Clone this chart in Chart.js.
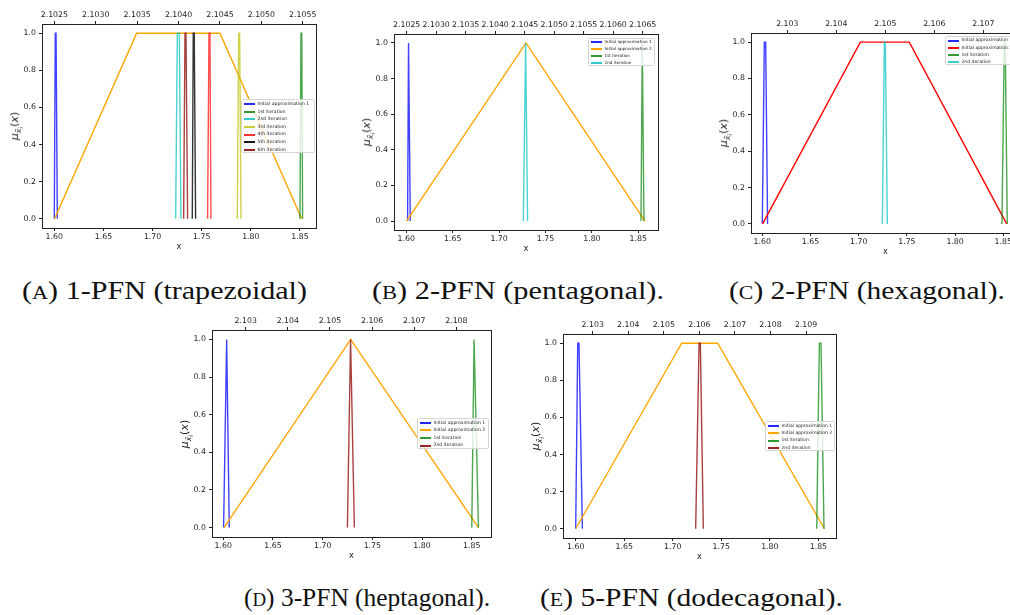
<!DOCTYPE html>
<html>
<head>
<meta charset="utf-8">
<script src="https://cdn.jsdelivr.net/npm/chart.js@4.4.1/dist/chart.umd.min.js"></script>
<style>
  html, body { margin: 0; padding: 0; background: #fff; width: 1010px; height: 615px; overflow: hidden; position: relative; }
  canvas { position: absolute; }
  .leg { position: absolute; background: rgba(255,255,255,0.8); border: 0.6px solid #d6d6d6; border-radius: 1.5px; box-sizing: border-box; font-family: "DejaVu Sans"; color: #1a1a1a; }
  .leg .txt { position: absolute; white-space: nowrap; line-height: 1; }
  .leg .sw { position: absolute; height: 2px; }
  .ylab { position: absolute; font-family: "DejaVu Sans"; font-style: italic; font-size: 11px; line-height: 12px; color: #222; white-space: nowrap; transform: translate(-50%, -50%) rotate(-90deg); }
  .ylab sub { font-size: 0.7em; vertical-align: -0.35em; line-height: 0; }
  .ylab sub sub { font-size: 0.8em; vertical-align: -0.3em; }
  .ylab .up { font-style: normal; }
  .cap { position: absolute; font-family: "Liberation Serif", serif; font-size: 25px; line-height: 26px; white-space: nowrap; transform-origin: left center; color: #111; }
  .cap .sc { font-size: 0.74em; }
</style>
</head>
<body>
<script>
// ---- DATA ----
const X_TICKS = [1.60, 1.65, 1.70, 1.75, 1.80, 1.85];
const Y_TICKS = [0.0, 0.2, 0.4, 0.6, 0.8, 1.0];
const TOP_TICKS_A = [2.1025, 2.1030, 2.1035, 2.1040, 2.1045, 2.1050, 2.1055];
const TOP_TICKS_B = [2.1025, 2.1030, 2.1035, 2.1040, 2.1045, 2.1050, 2.1055, 2.1060, 2.1065];
const TOP_TICKS_C = [2.103, 2.104, 2.105, 2.106, 2.107];
const TOP_TICKS_D = [2.103, 2.104, 2.105, 2.106, 2.107, 2.108];
const TOP_TICKS_E = [2.103, 2.104, 2.105, 2.106, 2.107, 2.108, 2.109];

// membership values of the polygon vertices
const Y_TRI  = [0, 1, 0];
const Y_TRAP = [0, 1, 1, 0];

// (A) 1-PFN trapezoidal
const A_INIT1 = [1.6000, 1.6010, 1.6018, 1.6031];
const A_INIT2 = [1.6003, 1.6838, 1.7686, 1.8517];
const A_IT1   = [1.8500, 1.8510, 1.8518, 1.8527];
const A_IT2   = [1.7235, 1.7252, 1.7272, 1.7289];
const A_IT3   = [1.7862, 1.7876, 1.7886, 1.7900];
const A_IT4   = [1.7560, 1.7574, 1.7584, 1.7594];
const A_IT5   = [1.7404, 1.7414, 1.7424, 1.7438];
const A_IT6   = [1.7316, 1.7330, 1.7340, 1.7357];
// (B) 2-PFN pentagonal
const B_INIT1 = [1.6014, 1.6024, 1.6043];
const B_INIT2 = [1.6003, 1.7290, 1.8572];
const B_IT1   = [1.8529, 1.8543, 1.8561];
const B_IT2   = [1.7261, 1.7286, 1.7307];
// (C) 2-PFN hexagonal
const C_INIT1 = [1.6000, 1.6021, 1.6035, 1.6055];
const C_INIT2 = [1.6003, 1.7017, 1.7525, 1.8535];
const C_IT1   = [1.8486, 1.8510, 1.8520, 1.8541];
const C_IT2   = [1.7245, 1.7266, 1.7276, 1.7297];
// (D) 3-PFN heptagonal
const D_INIT1 = [1.6003, 1.6034, 1.6060];
const D_INIT2 = [1.6007, 1.7282, 1.8568];
const D_IT1   = [1.8501, 1.8524, 1.8568];
const D_IT2   = [1.7249, 1.7281, 1.7319];
// (E) 5-PFN dodecagonal
const E_INIT1 = [1.6000, 1.6021, 1.6034, 1.6069];
const E_INIT2 = [1.6000, 1.7092, 1.7463, 1.8562];
const E_IT1   = [1.8483, 1.8510, 1.8527, 1.8558];
const E_IT2   = [1.7236, 1.7271, 1.7284, 1.7315];

// ---- STYLE / LAYOUT ----
const COL = {
  b: [0, 0, 255], orange: [255, 165, 0], g: [0, 128, 0], c: [0, 191, 191],
  y: [191, 191, 0], r: [255, 0, 0], k: [0, 0, 0], darkred: [139, 0, 0]
};
const AX_LEFT = 40, AX_TOP = 20, AX_BOTTOM = 28, PAD_R = 14;
const TICK_FONT = { family: 'DejaVu Sans', size: 7.8 };
const INK = '#222';

const PANELS = [
  { box: [42, 24, 316, 228], x: [1.5875, 1.8663], top: [2.102351, 2.105660], topTicks: TOP_TICKS_A, topDigits: 4,
    legend: { left: 241, top: 99, w: 74, h: 54, font: 4.6, step: 7.6 },
    series: [
      { label: 'Initial approximation 1', xs: A_INIT1, ys: Y_TRAP, c: 'b', a: 0.75 },
      { label: 'Initial approximation 2', xs: A_INIT2, ys: Y_TRAP, c: 'orange', a: 1, noLegend: true },
      { label: '1st iteration', xs: A_IT1, ys: Y_TRAP, c: 'g', a: 0.7 },
      { label: '2nd iteration', xs: A_IT2, ys: Y_TRAP, c: 'c', a: 0.7 },
      { label: '3rd iteration', xs: A_IT3, ys: Y_TRAP, c: 'y', a: 0.7 },
      { label: '4th iteration', xs: A_IT4, ys: Y_TRAP, c: 'r', a: 0.7 },
      { label: '5th iteration', xs: A_IT5, ys: Y_TRAP, c: 'k', a: 0.8 },
      { label: '6th iteration', xs: A_IT6, ys: Y_TRAP, c: 'darkred', a: 0.75 }
    ] },
  { box: [394, 34, 658, 230], x: [1.58675, 1.87123], top: [2.102285, 2.106760], topTicks: TOP_TICKS_B, topDigits: 4,
    legend: { left: 588, top: 37.5, w: 66.5, h: 28.5, font: 4.2, step: 7.1 },
    series: [
      { label: 'Initial approximation 1', xs: B_INIT1, ys: Y_TRI, c: 'b', a: 0.75 },
      { label: 'Initial approximation 2', xs: B_INIT2, ys: Y_TRI, c: 'orange', a: 1 },
      { label: '1st iteration', xs: B_IT1, ys: Y_TRI, c: 'g', a: 0.7 },
      { label: '2nd iteration', xs: B_IT2, ys: Y_TRI, c: 'c', a: 0.7 }
    ] },
  { box: [751, 33, 1020, 233], x: [1.58828, 1.86733], top: [2.102259, 2.107749], topTicks: TOP_TICKS_C, topDigits: 3,
    legend: { left: 945, top: 36, w: 72, h: 29, font: 4.5, step: 7.2 },
    series: [
      { label: 'Initial approximation 1', xs: C_INIT1, ys: Y_TRAP, c: 'b', a: 0.75 },
      { label: 'Initial approximation 2', xs: C_INIT2, ys: Y_TRAP, c: 'r', a: 1 },
      { label: '1st iteration', xs: C_IT1, ys: Y_TRAP, c: 'g', a: 0.7 },
      { label: '2nd iteration', xs: C_IT2, ys: Y_TRAP, c: 'c', a: 0.7 }
    ] },
  { box: [212, 330, 491, 537], x: [1.58863, 1.86943], top: [2.102200, 2.108822], topTicks: TOP_TICKS_D, topDigits: 3,
    legend: { left: 417, top: 417.5, w: 71.5, h: 31.5, font: 4.6, step: 7.6 },
    series: [
      { label: 'Initial approximation 1', xs: D_INIT1, ys: Y_TRI, c: 'b', a: 0.75 },
      { label: 'Initial approximation 2', xs: D_INIT2, ys: Y_TRI, c: 'orange', a: 1 },
      { label: '1st iteration', xs: D_IT1, ys: Y_TRI, c: 'g', a: 0.7 },
      { label: '2nd iteration', xs: D_IT2, ys: Y_TRI, c: 'darkred', a: 0.75 }
    ] },
  { box: [563, 334, 836, 538], x: [1.58692, 1.86816], top: [2.102165, 2.109842], topTicks: TOP_TICKS_E, topDigits: 3,
    legend: { left: 765, top: 421, w: 69.5, h: 30, font: 4.5, step: 7.4 },
    series: [
      { label: 'Initial approximation 1', xs: E_INIT1, ys: Y_TRAP, c: 'b', a: 0.75 },
      { label: 'Initial approximation 2', xs: E_INIT2, ys: Y_TRAP, c: 'orange', a: 1 },
      { label: '1st iteration', xs: E_IT1, ys: Y_TRAP, c: 'g', a: 0.7 },
      { label: '2nd iteration', xs: E_IT2, ys: Y_TRAP, c: 'darkred', a: 0.75 }
    ] }
];

const CAPTIONS = [
  { tag: 'A', text: ' 1-PFN (trapezoidal)',  x0: 22,  x1: 307, cy: 291 },
  { tag: 'B', text: ' 2-PFN (pentagonal).',  x0: 372, x1: 664, cy: 291 },
  { tag: 'C', text: ' 2-PFN (hexagonal).',   x0: 729, x1: 1005, cy: 291 },
  { tag: 'D', text: ' 3-PFN (heptagonal).',  x0: 244, x1: 490, cy: 598 },
  { tag: 'E', text: ' 5-PFN (dodecagonal).', x0: 540, x1: 843, cy: 598 }
];

function rgba(c, a) { const v = COL[c]; return `rgba(${v[0]},${v[1]},${v[2]},${a})`; }

// fixed tick list for an axis
const fixedTicks = list => axis => { axis.ticks = list.map(v => ({ value: v })); };

function tickAxis(extra) {
  return Object.assign({
    type: 'linear',
    grid: { display: true, drawOnChartArea: false, drawTicks: true, tickLength: 3, color: INK, lineWidth: 1 },
    border: { display: true, color: INK, width: 1 },
    ticks: { font: TICK_FONT, color: INK, autoSkip: false, maxRotation: 0, minRotation: 0, padding: 1.2 }
  }, extra);
}

function makePanel(p) {
  const [l, t, r, b] = p.box;
  const cv = document.createElement('canvas');
  cv.width = (r - l) + AX_LEFT + PAD_R;
  cv.height = (b - t) + AX_TOP + AX_BOTTOM;
  cv.style.left = (l - AX_LEFT) + 'px';
  cv.style.top = (t - AX_TOP) + 'px';
  document.body.appendChild(cv);

  const n = p.series.length;
  const datasets = p.series.map((s, i) => ({
    label: s.label,
    data: s.xs.map((x, j) => ({ x: x, y: s.ys[j] })),
    borderColor: rgba(s.c, s.a),
    borderWidth: 1.4,
    pointRadius: 0,
    showLine: true,
    fill: false,
    order: n - i   // later series on top, like matplotlib
  }));

  new Chart(cv.getContext('2d'), {
    type: 'scatter',
    data: { datasets },
    options: {
      responsive: false,
      animation: false,
      devicePixelRatio: 1,
      layout: { padding: { left: 0, top: 0, bottom: 0, right: PAD_R } },
      plugins: { legend: { display: false }, tooltip: { enabled: false } },
      scales: {
        x: tickAxis({
          position: 'bottom', min: p.x[0], max: p.x[1],
          afterBuildTicks: fixedTicks(X_TICKS),
          afterFit: s => { s.height = AX_BOTTOM; },
          ticks: Object.assign({}, tickAxis().ticks, { callback: v => Number(v).toFixed(2) }),
          title: { display: true, text: 'x', font: { family: 'DejaVu Sans', size: 8.2 }, color: INK, padding: { top: 0, bottom: 4 } }
        }),
        x2: tickAxis({
          axis: 'x', position: 'top', min: p.top[0], max: p.top[1],
          afterBuildTicks: fixedTicks(p.topTicks),
          afterFit: s => { s.height = AX_TOP; },
          ticks: Object.assign({}, tickAxis().ticks, { padding: 1.8, callback: v => Number(v).toFixed(p.topDigits) })
        }),
        y: tickAxis({
          position: 'left', min: -0.05, max: 1.05,
          afterBuildTicks: fixedTicks(Y_TICKS),
          afterFit: s => { s.width = AX_LEFT; },
          ticks: Object.assign({}, tickAxis().ticks, { padding: 3, callback: v => Number(v).toFixed(1) })
        }),
        y2: {
          type: 'linear', axis: 'y', position: 'right', min: -0.05, max: 1.05,
          grid: { display: false },
          border: { display: true, color: INK, width: 1 },
          ticks: { display: false },
          afterFit: s => { s.width = 0; }
        }
      }
    }
  });

  // y-axis label  mu_{x~_i}(x)
  const yl = document.createElement('div');
  yl.className = 'ylab';
  yl.innerHTML = 'μ<sub>x̃<sub>i</sub></sub><span class="up">(</span>x<span class="up">)</span>';
  yl.style.left = (l - 27) + 'px';
  yl.style.top = ((t + b) / 2) + 'px';
  document.body.appendChild(yl);

  // legend box (matplotlib style, inside the axes)
  const L = p.legend;
  const items = p.series.filter(s => !s.noLegend);
  const box = document.createElement('div');
  box.className = 'leg';
  Object.assign(box.style, { left: L.left + 'px', top: L.top + 'px', width: L.w + 'px', height: L.h + 'px', fontSize: L.font + 'px' });
  const y0 = (L.h - (items.length - 1) * L.step) / 2;
  items.forEach((s, i) => {
    const cy = y0 + i * L.step;
    // snap the swatch to whole page pixels so every row looks the same
    const swTop = Math.round(L.top + cy - 1) - L.top;
    const sw = document.createElement('div');
    sw.className = 'sw';
    Object.assign(sw.style, { left: '2px', width: '10.5px', top: swTop + 'px', background: rgba(s.c, Math.min(1, s.a + 0.1)) });
    const tx = document.createElement('div');
    tx.className = 'txt';
    tx.textContent = s.label;
    Object.assign(tx.style, { left: '15.5px', top: (cy - L.font / 2) + 'px' });
    box.appendChild(sw);
    box.appendChild(tx);
  });
  document.body.appendChild(box);
}

function makeCaption(c) {
  const d = document.createElement('div');
  d.className = 'cap';
  const sc = document.createElement('span');
  sc.className = 'sc';
  sc.textContent = c.tag;
  d.appendChild(document.createTextNode('('));
  d.appendChild(sc);
  d.appendChild(document.createTextNode(')' + c.text));
  d.style.left = c.x0 + 'px';
  d.style.top = (c.cy - 13) + 'px';
  document.body.appendChild(d);
  const w = d.getBoundingClientRect().width;
  d.style.transform = `scaleX(${(c.x1 - c.x0) / w})`;
}

PANELS.forEach(makePanel);
CAPTIONS.forEach(makeCaption);
</script>
</body>
</html>
